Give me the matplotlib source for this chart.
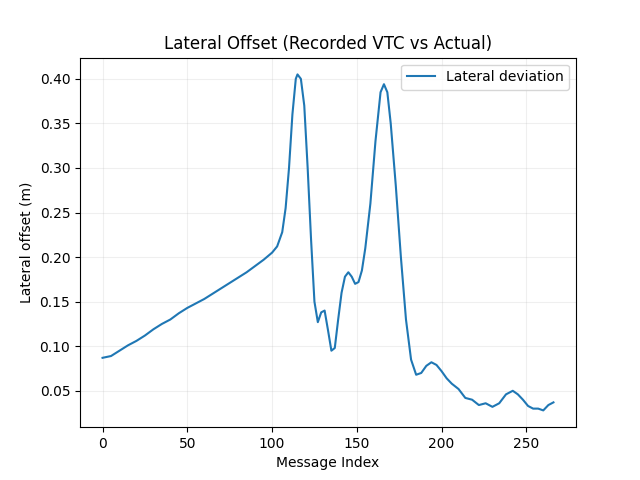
import matplotlib
matplotlib.use("Agg")
import matplotlib.pyplot as plt

msg_index = [0, 5, 10, 15, 20, 25, 30, 35, 40, 45, 50, 55, 60, 65, 70, 75, 80, 85, 90, 95,
             100, 103, 106, 108, 110, 112, 114, 115, 117, 119, 121, 123, 125, 127, 129, 131,
             133, 135, 137, 139, 141, 143, 145, 147, 149, 151, 153, 155, 158, 161, 164, 166,
             168, 170, 173, 176, 179, 182, 185, 188, 191, 194, 197, 200, 203, 206, 210, 214,
             218, 222, 226, 230, 234, 238, 242, 245, 248, 251, 254, 257, 260, 263, 266]
lateral = [0.087, 0.089, 0.095, 0.101, 0.106, 0.112, 0.119, 0.125, 0.130, 0.137, 0.143, 0.148,
           0.153, 0.159, 0.165, 0.171, 0.177, 0.183, 0.190, 0.197, 0.205, 0.212, 0.228, 0.255,
           0.300, 0.360, 0.400, 0.405, 0.400, 0.370, 0.300, 0.220, 0.150, 0.127, 0.138, 0.140,
           0.118, 0.095, 0.098, 0.130, 0.160, 0.178, 0.183, 0.178, 0.170, 0.172, 0.185, 0.210,
           0.260, 0.330, 0.385, 0.394, 0.385, 0.350, 0.280, 0.200, 0.130, 0.085, 0.068, 0.070,
           0.078, 0.082, 0.079, 0.072, 0.064, 0.058, 0.052, 0.042, 0.040, 0.034, 0.036, 0.032,
           0.036, 0.046, 0.050, 0.046, 0.040, 0.033, 0.030, 0.030, 0.028, 0.034, 0.037]

fig, ax = plt.subplots(figsize=(6.4, 4.8), dpi=100)
ax.plot(msg_index, lateral, color="#1f77b4", linewidth=1.5, label="Lateral deviation")
ax.set_title("Lateral Offset (Recorded VTC vs Actual)")
ax.set_xlabel("Message Index")
ax.set_ylabel("Lateral offset (m)")
ax.grid(True, alpha=0.2)
ax.legend(loc="upper right")
fig.savefig("out.png")
